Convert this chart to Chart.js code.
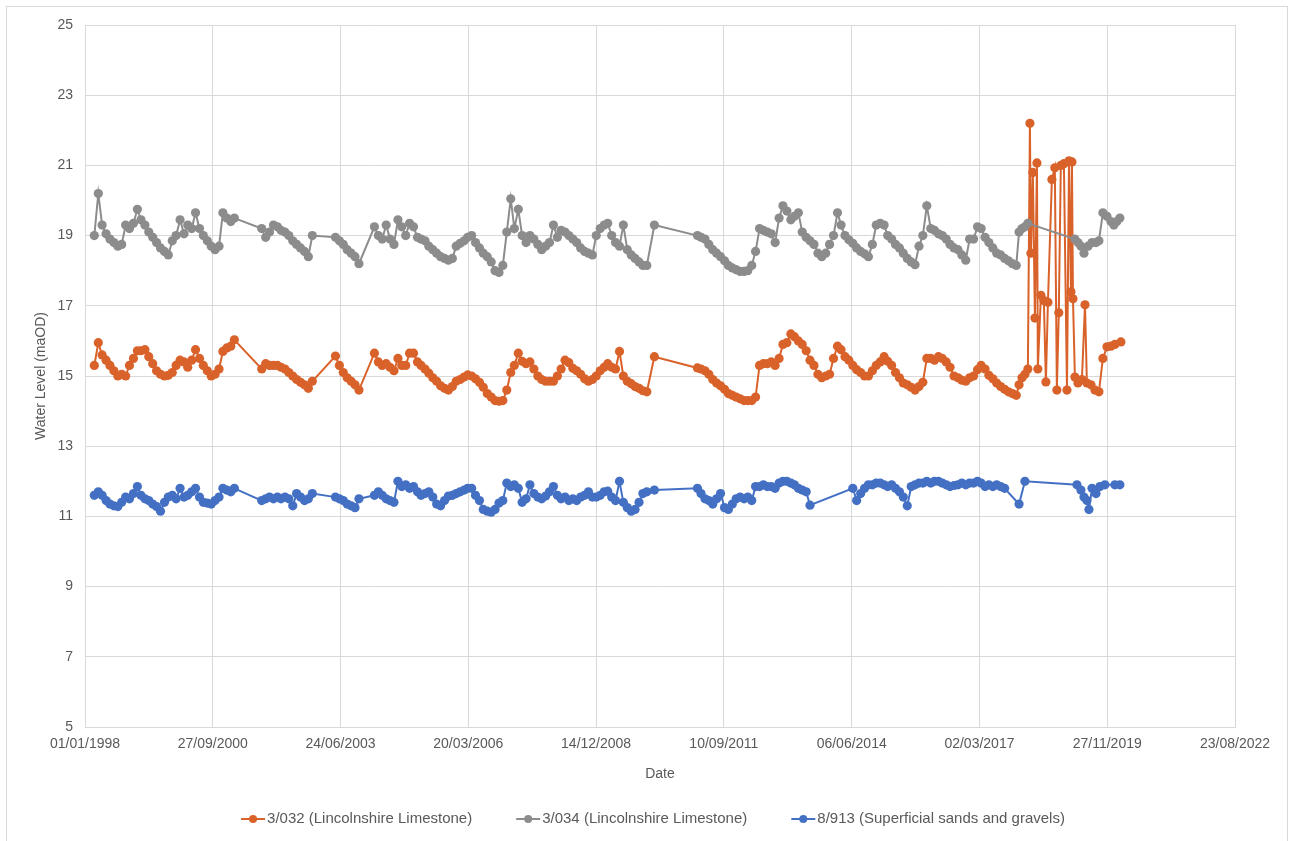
<!DOCTYPE html>
<html><head><meta charset="utf-8">
<script src="https://cdn.jsdelivr.net/npm/chart.js@4.4.1/dist/chart.umd.min.js"></script>
<style>html,body{margin:0;padding:0;background:#fff;}#wrap{width:1292px;height:841px;position:relative;}</style>
</head><body><div id="wrap"><canvas id="c" width="1292" height="841"></canvas></div>
<script>
const seriesNames = ["3/032 (Lincolnshire Limestone)", "3/034 (Lincolnshire Limestone)", "8/913 (Superficial sands and gravels)"];
const seriesColors = ["#D9622B", "#8C8C8C", "#4470C4"];
const xAxisStart = "1998-01-01";
const xAxisEnd = "2022-08-23";
const xTickStepDays = 1000;
const yTicks = [5, 7, 9, 11, 13, 15, 17, 19, 21, 23, 25];

const dates032 = ["1998-03","1998-04","1998-05","1998-06","1998-07","1998-08","1998-09","1998-10","1998-11","1998-12",
"1999-01","1999-02","1999-03","1999-04","1999-05","1999-06","1999-07","1999-08","1999-09","1999-10","1999-11","1999-12",
"2000-01","2000-02","2000-03","2000-04","2000-05","2000-06","2000-07","2000-08","2000-09","2000-10","2000-11","2000-12",
"2001-01","2001-02","2001-03","2001-10","2001-11","2001-12",
"2002-01","2002-02","2002-03","2002-04","2002-05","2002-06","2002-07","2002-08","2002-09","2002-10","2002-11",
"2003-05","2003-06","2003-07","2003-08","2003-09","2003-10","2003-11",
"2004-03","2004-04","2004-05","2004-06","2004-07","2004-08","2004-09","2004-10","2004-11","2004-12",
"2005-01","2005-02","2005-03","2005-04","2005-05","2005-06","2005-07","2005-08","2005-09","2005-10","2005-11","2005-12",
"2006-01","2006-02","2006-03","2006-04","2006-05","2006-06","2006-07","2006-08","2006-09","2006-10","2006-11","2006-12",
"2007-01","2007-02","2007-03","2007-04","2007-05","2007-06","2007-07","2007-08","2007-09","2007-10","2007-11","2007-12",
"2008-01","2008-02","2008-03","2008-04","2008-05","2008-06","2008-07","2008-08","2008-09","2008-10","2008-11","2008-12",
"2009-01","2009-02","2009-03","2009-04","2009-05","2009-06","2009-07","2009-08","2009-09","2009-10","2009-11","2009-12",
"2010-01","2010-03",
"2011-02","2011-03","2011-04","2011-05","2011-06","2011-07","2011-08","2011-09","2011-10","2011-11","2011-12",
"2012-01","2012-02","2012-03","2012-04","2012-05","2012-06","2012-07","2012-08","2012-09","2012-10","2012-11","2012-12",
"2013-01","2013-02","2013-03","2013-04","2013-05","2013-06","2013-07","2013-08","2013-09","2013-10","2013-11","2013-12",
"2014-01","2014-02","2014-03","2014-04","2014-05","2014-06","2014-07","2014-08","2014-09","2014-10","2014-11","2014-12",
"2015-01","2015-02","2015-03","2015-04","2015-05","2015-06","2015-07","2015-08","2015-09","2015-10","2015-11","2015-12",
"2016-01","2016-02","2016-03","2016-04","2016-05","2016-06","2016-07","2016-08","2016-09","2016-10","2016-11","2016-12",
"2017-01","2017-02","2017-03","2017-04","2017-05","2017-06","2017-07","2017-08","2017-09","2017-10","2017-11","2017-12",
"2018-01-06","2018-01-29","2018-02-21","2018-03-16","2018-04-01","2018-04-09","2018-04-24","2018-05-10","2018-05-26","2018-06-02",
"2018-06-26","2018-07-19","2018-08-04","2018-08-20","2018-09-20","2018-10-13","2018-10-29","2018-11-13","2018-11-29","2018-12-23",
"2019-01-16","2019-02-01","2019-02-16","2019-02-24","2019-03-04","2019-03-19","2019-04-12","2019-05-13","2019-06-06","2019-06-21",
"2019-07-23","2019-08-23","2019-09-23","2019-10-24","2019-11-25","2019-12-26","2020-01-26","2020-03-13"];
const levels032 = [15.3,15.95,15.6,15.45,15.3,15.15,15.0,15.05,15.0,15.3,
15.5,15.72,15.72,15.75,15.55,15.35,15.15,15.05,15.0,15.02,15.1,15.3,
15.45,15.4,15.25,15.45,15.75,15.5,15.3,15.15,15.0,15.05,15.2,15.7,
15.8,15.85,16.03,15.2,15.35,15.3,
15.3,15.3,15.25,15.2,15.1,15.0,14.9,14.82,14.75,14.65,14.85,
15.57,15.3,15.1,14.95,14.85,14.75,14.6,
15.65,15.4,15.3,15.35,15.25,15.15,15.5,15.3,15.3,15.65,
15.65,15.4,15.3,15.2,15.08,14.95,14.85,14.72,14.65,14.6,14.7,14.85,
14.9,14.97,15.03,15.0,14.92,14.82,14.68,14.5,14.4,14.3,14.28,14.3,
14.6,15.1,15.3,15.65,15.42,15.35,15.4,15.2,15.0,14.9,14.85,14.85,
14.85,15.0,15.2,15.45,15.38,15.22,15.15,15.05,14.92,14.85,14.9,15.0,
15.15,15.25,15.35,15.25,15.2,15.7,15.0,14.85,14.78,14.7,14.65,14.58,
14.55,15.55,
15.23,15.2,15.15,15.05,14.9,14.8,14.72,14.62,14.5,14.45,14.4,
14.35,14.3,14.3,14.3,14.4,15.3,15.35,15.35,15.4,15.3,15.5,15.9,
15.95,16.2,16.12,16.0,15.9,15.72,15.45,15.3,15.05,14.95,15.0,15.05,
15.5,15.85,15.75,15.55,15.45,15.3,15.18,15.1,15.0,15.0,15.15,15.3,
15.4,15.55,15.42,15.3,15.1,14.95,14.8,14.75,14.68,14.6,14.7,14.82,
15.5,15.5,15.45,15.55,15.5,15.4,15.25,15.0,14.95,14.88,14.85,14.95,
15.0,15.18,15.3,15.2,15.02,14.92,14.8,14.7,14.62,14.55,14.5,14.45,
14.75,14.95,15.05,15.2,22.2,18.5,20.8,16.65,21.07,15.2,
17.3,17.15,14.83,17.1,20.6,20.93,14.6,16.8,21.0,21.05,
14.6,21.13,17.4,21.1,17.2,14.97,14.8,14.9,17.03,14.8,
14.75,14.6,14.55,15.5,15.83,15.85,15.9,15.97];

const dates034 = ["1998-03","1998-04","1998-05","1998-06","1998-07","1998-08","1998-09","1998-10","1998-11","1998-12",
"1999-01","1999-02","1999-03","1999-04","1999-05","1999-06","1999-07","1999-08","1999-09","1999-10","1999-11","1999-12",
"2000-01","2000-02","2000-03","2000-04","2000-05","2000-06","2000-07","2000-08","2000-09","2000-10","2000-11","2000-12",
"2001-01","2001-02","2001-03","2001-10","2001-11","2001-12",
"2002-01","2002-02","2002-03","2002-04","2002-05","2002-06","2002-07","2002-08","2002-09","2002-10","2002-11",
"2003-05","2003-06","2003-07","2003-08","2003-09","2003-10","2003-11",
"2004-03","2004-04","2004-05","2004-06","2004-07","2004-08","2004-09","2004-10","2004-11","2004-12",
"2005-01","2005-02","2005-03","2005-04","2005-05","2005-06","2005-07","2005-08","2005-09","2005-10","2005-11","2005-12",
"2006-01","2006-02","2006-03","2006-04","2006-05","2006-06","2006-07","2006-08","2006-09","2006-10","2006-11","2006-12",
"2007-01","2007-02","2007-03","2007-04","2007-05","2007-06","2007-07","2007-08","2007-09","2007-10","2007-11","2007-12",
"2008-01","2008-02","2008-03","2008-04","2008-05","2008-06","2008-07","2008-08","2008-09","2008-10","2008-11","2008-12",
"2009-01","2009-02","2009-03","2009-04","2009-05","2009-06","2009-07","2009-08","2009-09","2009-10","2009-11","2009-12",
"2010-01","2010-03",
"2011-02","2011-03","2011-04","2011-05","2011-06","2011-07","2011-08","2011-09","2011-10","2011-11","2011-12",
"2012-01","2012-02","2012-03","2012-04","2012-05","2012-06","2012-07","2012-08","2012-09","2012-10","2012-11","2012-12",
"2013-01","2013-02","2013-03","2013-04","2013-05","2013-06","2013-07","2013-08","2013-09","2013-10","2013-11","2013-12",
"2014-01","2014-02","2014-03","2014-04","2014-05","2014-06","2014-07","2014-08","2014-09","2014-10","2014-11","2014-12",
"2015-01","2015-02","2015-03","2015-04","2015-05","2015-06","2015-07","2015-08","2015-09","2015-10","2015-11","2015-12",
"2016-01","2016-02","2016-03","2016-04","2016-05","2016-06","2016-07","2016-08","2016-09","2016-10","2016-11","2016-12",
"2017-01","2017-02","2017-03","2017-04","2017-05","2017-06","2017-07","2017-08","2017-09","2017-10","2017-11","2017-12",
"2018-01-06","2018-01-29","2018-02-21","2018-03-16",
"2019-03-19","2019-04-12","2019-05-06","2019-05-29","2019-06-30","2019-07-31","2019-08-31","2019-09-23","2019-10-24","2019-11-25","2019-12-26",
"2020-01-18","2020-02-10","2020-03-05"];
const levels034 = [19.0,20.2,19.3,19.05,18.9,18.8,18.7,18.75,19.3,19.2,
19.35,19.75,19.45,19.3,19.1,18.95,18.8,18.65,18.55,18.45,18.85,19.0,
19.45,19.05,19.3,19.2,19.65,19.2,19.0,18.85,18.7,18.6,18.7,19.65,
19.5,19.4,19.5,19.2,18.95,19.1,
19.3,19.25,19.15,19.1,19.0,18.85,18.75,18.65,18.55,18.4,19.0,
18.95,18.85,18.75,18.6,18.5,18.4,18.2,
19.25,19.0,18.9,19.3,18.9,18.75,19.45,19.25,19.0,19.35,
19.25,18.95,18.9,18.85,18.7,18.6,18.5,18.4,18.35,18.3,18.35,18.7,
18.78,18.85,18.95,19.0,18.8,18.65,18.5,18.4,18.25,18.0,17.95,18.15,
19.1,20.05,19.2,19.75,19.0,18.8,19.0,18.9,18.75,18.6,18.7,18.8,
19.3,18.95,19.15,19.1,19.0,18.9,18.8,18.65,18.55,18.5,18.45,19.0,
19.2,19.3,19.35,19.0,18.8,18.7,19.3,18.6,18.45,18.35,18.25,18.15,
18.15,19.3,
19.0,18.95,18.9,18.75,18.6,18.5,18.4,18.28,18.15,18.08,18.03,
17.98,17.98,18.0,18.15,18.55,19.2,19.15,19.1,19.05,18.8,19.5,19.85,
19.7,19.45,19.55,19.65,19.1,18.95,18.85,18.75,18.5,18.4,18.5,18.75,
19.0,19.65,19.3,19.0,18.88,18.78,18.65,18.55,18.48,18.4,18.75,19.3,
19.35,19.3,19.0,18.9,18.75,18.65,18.5,18.35,18.25,18.17,18.7,19.0,
19.85,19.2,19.15,19.05,19.0,18.9,18.75,18.65,18.6,18.45,18.3,18.9,
18.9,19.25,19.2,18.95,18.8,18.65,18.5,18.45,18.35,18.28,18.2,18.15,
19.1,19.2,19.25,19.35,
18.9,18.8,18.7,18.5,18.7,18.8,18.8,18.85,19.65,19.55,19.4,
19.3,19.4,19.5];

const dates913 = ["1998-03","1998-04","1998-05","1998-06","1998-07","1998-08","1998-09","1998-10","1998-11","1998-12",
"1999-01","1999-02","1999-03","1999-04","1999-05","1999-06","1999-07","1999-08","1999-09","1999-10","1999-11","1999-12",
"2000-01","2000-02","2000-03","2000-04","2000-05","2000-06","2000-07","2000-08","2000-09","2000-10","2000-11","2000-12",
"2001-01","2001-02","2001-03","2001-10","2001-11","2001-12",
"2002-01","2002-02","2002-03","2002-04","2002-05","2002-06","2002-07","2002-08","2002-09","2002-10","2002-11",
"2003-05","2003-06","2003-07","2003-08","2003-09","2003-10","2003-11",
"2004-03","2004-04","2004-05","2004-06","2004-07","2004-08","2004-09","2004-10","2004-11","2004-12",
"2005-01","2005-02","2005-03","2005-04","2005-05","2005-06","2005-07","2005-08","2005-09","2005-10","2005-11","2005-12",
"2006-01","2006-02","2006-03","2006-04","2006-05","2006-06","2006-07","2006-08","2006-09","2006-10","2006-11","2006-12",
"2007-01","2007-02","2007-03","2007-04","2007-05","2007-06","2007-07","2007-08","2007-09","2007-10","2007-11","2007-12",
"2008-01","2008-02","2008-03","2008-04","2008-05","2008-06","2008-07","2008-08","2008-09","2008-10","2008-11","2008-12",
"2009-01","2009-02","2009-03","2009-04","2009-05","2009-06","2009-07","2009-08","2009-09","2009-10","2009-11","2009-12",
"2010-01","2010-03",
"2011-02","2011-03","2011-04","2011-05","2011-06","2011-07","2011-08","2011-09","2011-10","2011-11","2011-12",
"2012-01","2012-02","2012-03","2012-04","2012-05","2012-06","2012-07","2012-08","2012-09","2012-10","2012-11","2012-12",
"2013-01","2013-02","2013-03","2013-04","2013-05","2013-06","2013-07",
"2014-06","2014-07","2014-08","2014-09","2014-10","2014-11","2014-12",
"2015-01","2015-02","2015-03","2015-04","2015-05","2015-06","2015-07","2015-08","2015-09","2015-10","2015-11","2015-12",
"2016-01","2016-02","2016-03","2016-04","2016-05","2016-06","2016-07","2016-08","2016-09","2016-10","2016-11","2016-12",
"2017-01","2017-02","2017-03","2017-04","2017-05","2017-06","2017-07","2017-08","2017-09",
"2018-01-06","2018-02-21",
"2019-04-04","2019-05-05","2019-05-29","2019-06-21","2019-07-07","2019-07-31","2019-08-31","2019-10-01","2019-11-09",
"2020-01-26","2020-03-05"];
const levels913 = [11.6,11.7,11.6,11.45,11.35,11.3,11.28,11.4,11.55,11.5,
11.65,11.85,11.6,11.5,11.45,11.35,11.28,11.15,11.4,11.55,11.6,11.5,
11.8,11.55,11.6,11.7,11.8,11.55,11.4,11.38,11.35,11.45,11.55,11.8,
11.75,11.7,11.8,11.45,11.5,11.55,
11.5,11.55,11.5,11.55,11.5,11.3,11.65,11.55,11.45,11.5,11.65,
11.55,11.5,11.45,11.35,11.3,11.25,11.5,
11.6,11.7,11.6,11.5,11.45,11.4,12.0,11.85,11.9,11.8,
11.85,11.7,11.6,11.65,11.7,11.55,11.35,11.3,11.45,11.58,11.6,11.65,
11.7,11.75,11.8,11.8,11.6,11.45,11.2,11.15,11.12,11.2,11.38,11.45,
11.95,11.85,11.9,11.8,11.4,11.5,11.9,11.65,11.55,11.5,11.58,11.7,
11.85,11.6,11.5,11.55,11.45,11.5,11.45,11.55,11.6,11.7,11.55,11.55,
11.6,11.7,11.72,11.55,11.45,12.0,11.4,11.25,11.15,11.2,11.4,11.65,
11.7,11.75,
11.8,11.65,11.5,11.45,11.35,11.5,11.65,11.25,11.2,11.35,11.5,
11.55,11.5,11.55,11.45,11.85,11.85,11.9,11.85,11.85,11.8,11.95,12.0,
12.0,11.95,11.9,11.8,11.75,11.7,11.32,
11.8,11.45,11.65,11.8,11.9,11.9,11.95,
11.95,11.9,11.85,11.9,11.8,11.7,11.55,11.3,11.85,11.9,11.95,11.95,
12.0,11.95,12.0,12.0,11.95,11.9,11.85,11.88,11.9,11.95,11.9,11.95,
11.95,12.0,11.95,11.85,11.9,11.85,11.9,11.85,11.8,
11.35,12.0,
11.9,11.75,11.55,11.45,11.2,11.8,11.65,11.85,11.9,
11.9,11.9];

// Excel-style day serial from a date string (YYYY-MM or YYYY-MM-DD)
function toSerial(s) {
  const p = s.split('-').map(Number);
  const d = p.length > 2 ? p[2] : 15;
  return Date.UTC(p[0], p[1] - 1, d) / 86400000 + 25569;
}
function fmtSerial(v) {
  const d = new Date(Math.round(v - 25569) * 86400000);
  const dd = String(d.getUTCDate()).padStart(2, '0');
  const mm = String(d.getUTCMonth() + 1).padStart(2, '0');
  return dd + '/' + mm + '/' + d.getUTCFullYear();
}
function pts(dates, vals) { return dates.map((d, i) => ({ x: toSerial(d), y: vals[i] })); }

const FONT = "'Liberation Sans', Arial, sans-serif";
const TXT = '#595959';
const GRID = '#D9D9D9';

function ds(i, dates, vals, order) {
  return {
    label: seriesNames[i],
    data: pts(dates, vals),
    borderColor: seriesColors[i],
    backgroundColor: seriesColors[i],
    pointBackgroundColor: seriesColors[i],
    pointBorderColor: seriesColors[i],
    borderWidth: 2,
    pointRadius: 4.6,
    pointBorderWidth: 0,
    pointHoverRadius: 4.6,
    tension: 0,
    order: order
  };
}

const legendPlugin = {
  id: 'lineMarkerLegend',
  afterDraw(chart) {
    const ctx = chart.ctx;
    ctx.save();
    ctx.font = '15px ' + FONT;
    const markerW = 24, gapText = 2, gapItem = 44;
    const widths = seriesNames.map(n => ctx.measureText(n).width);
    const total = widths.reduce((a, b) => a + b, 0) + seriesNames.length * (markerW + gapText) + gapItem * (seriesNames.length - 1);
    let x = 653 - total / 2;
    const y = 819;
    seriesNames.forEach((n, i) => {
      ctx.strokeStyle = seriesColors[i];
      ctx.lineWidth = 2;
      ctx.beginPath(); ctx.moveTo(x, y); ctx.lineTo(x + markerW, y); ctx.stroke();
      ctx.fillStyle = seriesColors[i];
      ctx.beginPath(); ctx.arc(x + markerW / 2, y, 4, 0, Math.PI * 2); ctx.fill();
      ctx.fillStyle = TXT;
      ctx.textBaseline = 'middle';
      ctx.textAlign = 'left';
      ctx.fillText(n, x + markerW + gapText, y);
      x += markerW + gapText + widths[i] + gapItem;
    });
    ctx.restore();
  }
};

const borderPlugin = {
  id: 'outerBorder',
  afterDraw(chart) {
    const ctx = chart.ctx;
    ctx.save();
    ctx.strokeStyle = GRID;
    ctx.lineWidth = 1;
    ctx.strokeRect(6.5, 6.5, 1281, chart.height);
    ctx.restore();
  }
};

const xMin = toSerial(xAxisStart);
const xMax = toSerial(xAxisEnd);

new Chart(document.getElementById('c'), {
  type: 'line',
  data: {
    datasets: [
      ds(0, dates032, levels032, 3),
      ds(1, dates034, levels034, 2),
      ds(2, dates913, levels913, 1)
    ]
  },
  plugins: [legendPlugin, borderPlugin],
  options: {
    responsive: false,
    animation: false,
    devicePixelRatio: 1,
    layout: { padding: { left: 31, right: 57, top: 25, bottom: 56 } },
    plugins: { legend: { display: false }, tooltip: { enabled: false } },
    scales: {
      x: {
        type: 'linear',
        min: xMin,
        max: xMax,
        afterBuildTicks(scale) {
          const t = [];
          for (let v = xMin; v <= xMax + 0.5; v += xTickStepDays) t.push({ value: v });
          scale.ticks = t;
        },
        afterFit(scale) { scale.height = 58; },
        ticks: {
          callback: (v) => fmtSerial(v),
          color: TXT, font: { family: FONT, size: 14 }, padding: 9,
          maxRotation: 0, autoSkip: false
        },
        grid: { color: GRID, lineWidth: 1, drawTicks: false },
        border: { color: GRID },
        title: { display: true, text: 'Date', color: TXT, font: { family: FONT, size: 14 }, padding: { top: 4, bottom: 2 } }
      },
      y: {
        min: 5, max: 25,
        afterBuildTicks(scale) { scale.ticks = yTicks.map(v => ({ value: v })); },
        afterFit(scale) { scale.width = 54; },
        ticks: { color: TXT, font: { family: FONT, size: 14 }, padding: 12 },
        grid: { color: GRID, lineWidth: 1, drawTicks: false },
        border: { color: GRID },
        title: { display: true, text: 'Water Level (maOD)', color: TXT, font: { family: FONT, size: 14 }, padding: { top: 2, bottom: 4 } }
      }
    }
  }
});
</script>
</body></html>
